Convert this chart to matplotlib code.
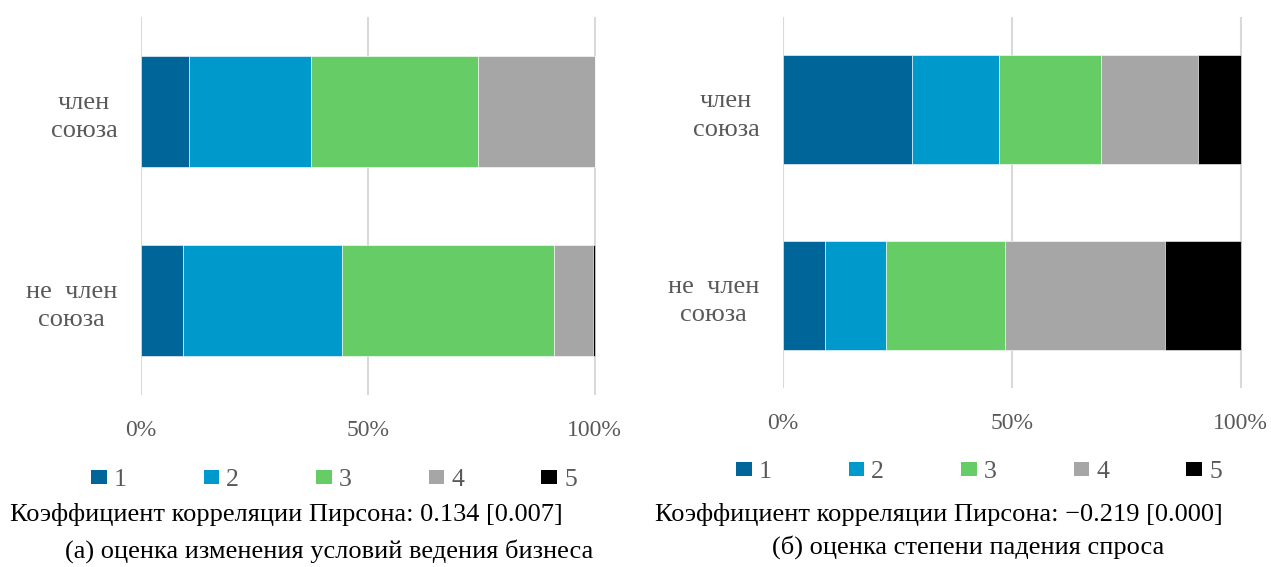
import numpy as np
import matplotlib.pyplot as plt
from matplotlib.patches import Patch

plt.rcParams['font.family'] = ['Liberation Serif', 'DejaVu Serif']

# категории (сверху вниз) и уровни оценки
categories = ['член\nсоюза', 'не  член\nсоюза']
levels = ['1', '2', '3', '4', '5']
colors = ['#006699', '#0099cc', '#66cc66', '#a6a6a6', '#000000']

# (а) оценка изменения условий ведения бизнеса, % по строке
business_member = [10.5, 27.0, 36.7, 25.8, 0.0]
business_nonmember = [9.2, 35.0, 46.9, 8.5, 0.4]

# (б) оценка степени падения спроса, % по строке
demand_member = [28.2, 18.9, 22.3, 21.2, 9.4]
demand_nonmember = [9.1, 13.4, 26.0, 35.0, 16.5]

xticks = [0, 50, 100]
xticklabels = ['0%', '50%', '100%']

W, H = 1271, 567
fig = plt.figure(figsize=(W / 100, H / 100), dpi=100)


def draw(ax, rows):
    y = [1, 0]
    left = np.zeros(2)
    data = np.array(rows)
    for j in range(len(levels)):
        ax.barh(y, data[:, j], left=left, height=0.59, color=colors[j],
                edgecolor='white', linewidth=0.4, label=levels[j], zorder=3)
        left += data[:, j]
    ax.set_xlim(0, 100.3)
    ax.set_ylim(-0.5, 1.5)
    ax.set_xticks(xticks)
    ax.set_xticklabels(xticklabels, fontsize=17, color='#595959')
    ax.set_yticks(y)
    ax.set_yticklabels(categories, fontsize=19, color='#595959')
    for lbl in ax.get_yticklabels():
        lbl.set_multialignment('center')
        lbl.set_linespacing(1.38)
    ax.tick_params(axis='x', length=0, pad=18)
    ax.tick_params(axis='y', length=0, pad=17)
    ax.grid(axis='x', color='#d9d9d9', linewidth=1.5, zorder=0)
    for s in ax.spines.values():
        s.set_visible(False)


ax1 = fig.add_axes([141 / W, 1 - 395 / H, 455 / W, 378 / H])
draw(ax1, [business_member, business_nonmember])
ax2 = fig.add_axes([783 / W, 1 - 388 / H, 459 / W, 371 / H])
draw(ax2, [demand_member, demand_nonmember])

handles = [Patch(facecolor=c, edgecolor='none') for c in colors]
for cx, cy in ((334, 480), (979, 472)):
    leg = fig.legend(handles, levels, loc='center', bbox_to_anchor=(cx / W, 1 - cy / H),
                     ncol=5, frameon=False, fontsize=18.5, handlelength=0.6,
                     handleheight=0.5, handletextpad=0.28, columnspacing=3.0,
                     borderpad=0, borderaxespad=0)
    for t in leg.get_texts():
        t.set_color('#595959')

fig.text(10 / W, 1 - 514 / H, 'Коэффициент корреляции Пирсона: 0.134 [0.007]',
         fontsize=19, ha='left', va='center')
fig.text(329 / W, 1 - 551 / H, '(а) оценка изменения условий ведения бизнеса',
         fontsize=19, ha='center', va='center')
fig.text(655 / W, 1 - 515 / H, 'Коэффициент корреляции Пирсона: \u22120.219 [0.000]',
         fontsize=19, ha='left', va='center')
fig.text(968 / W, 1 - 547 / H, '(б) оценка степени падения спроса',
         fontsize=19, ha='center', va='center')

fig.savefig('out.png', dpi=100)
